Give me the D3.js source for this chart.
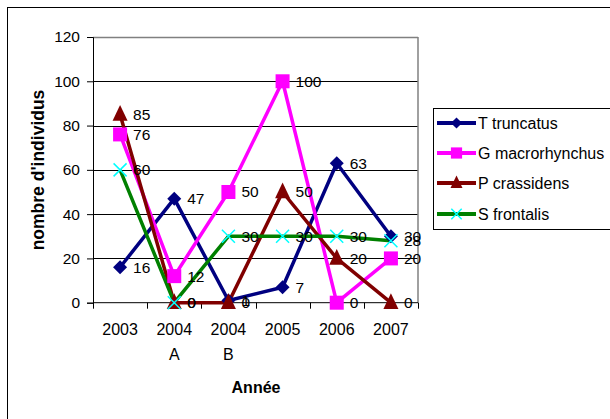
<!DOCTYPE html>
<html>
<head>
<meta charset="utf-8">
<script src="https://cdn.jsdelivr.net/npm/d3@7"></script>
<style>
  html, body { margin: 0; padding: 0; background: #fff; }
  svg { display: block; font-family: "Liberation Sans", Arial, sans-serif; }
</style>
</head>
<body>
<svg id="chart" width="610" height="419"></svg>
<script>
// ---- data ----
const categories = ["2003", "2004 A", "2004 B", "2005", "2006", "2007"];
const tickLines = [["2003"], ["2004", "A"], ["2004", "B"], ["2005"], ["2006"], ["2007"]];
const yTicks = [0, 20, 40, 60, 80, 100, 120];

const seriesNames = ["T truncatus", "G macrorhynchus", "P crassidens", "S frontalis"];
const tTruncatus = [16, 47, 1, 7, 63, 30];
const gMacrorhynchus = [76, 12, 50, 100, 0, 20];
const pCrassidens = [85, 0, 0, 50, 20, 0];
const sFrontalis = [60, 0, 30, 30, 30, 28];

const seriesValues = [tTruncatus, gMacrorhynchus, pCrassidens, sFrontalis];
const lineColors = ["#000080", "#FF00FF", "#800000", "#008000"];
const markerColors = ["#000080", "#FF00FF", "#800000", "#00FFFF"];
const markerTypes = ["diamond", "square", "triangle", "x"];

// ---- layout ----
const svg = d3.select("#chart");
const plot = { left: 93, right: 418, top: 37, bottom: 302.7 };

const x = d3.scaleBand().domain(categories).range([plot.left, plot.right]);
const y = d3.scaleLinear().domain([0, 120]).range([plot.bottom, plot.top]);
const cx = c => x(c) + x.bandwidth() / 2;

// outer border
svg.append("rect").attr("x", 7.5).attr("y", 7.5).attr("width", 640).attr("height", 440)
  .attr("fill", "#fff").attr("stroke", "#000").attr("stroke-width", 1);

// gridlines
svg.append("g").selectAll("line").data(yTicks.filter(t => t > 0)).join("line")
  .attr("x1", plot.left).attr("x2", plot.right)
  .attr("y1", d => Math.round(y(d)) + 0.5).attr("y2", d => Math.round(y(d)) + 0.5)
  .attr("stroke", d => d === 120 ? "#808080" : "#000").attr("stroke-width", d => d === 120 ? 1.5 : 1);

// right border of plot area
svg.append("line").attr("x1", plot.right).attr("x2", plot.right)
  .attr("y1", plot.top).attr("y2", plot.bottom)
  .attr("stroke", "#808080").attr("stroke-width", 1.5);

// y axis
const yAxis = d3.axisLeft(y).tickValues(yTicks).tickSize(6).tickPadding(7);
const gy = svg.append("g").attr("transform", `translate(${plot.left},0)`).call(yAxis);
gy.select(".domain").attr("stroke", "#000");
gy.selectAll(".tick line").attr("stroke", "#000");
gy.selectAll(".tick text").attr("font-size", 15.5).attr("fill", "#000")
  .attr("font-family", "Liberation Sans, Arial, sans-serif");

// x axis (ticks at category boundaries)
svg.append("line").attr("x1", plot.left).attr("x2", plot.right)
  .attr("y1", plot.bottom).attr("y2", plot.bottom).attr("stroke", "#000");
const boundaries = categories.map(c => x(c)).concat([plot.right]);
svg.append("g").selectAll("line").data(boundaries).join("line")
  .attr("x1", d => Math.round(d) + 0.5).attr("x2", d => Math.round(d) + 0.5)
  .attr("y1", plot.bottom).attr("y2", plot.bottom + 6).attr("stroke", "#000");

const xl = svg.append("g").selectAll("text").data(categories).join("text")
  .attr("x", d => cx(d)).attr("y", 335).attr("text-anchor", "middle")
  .attr("font-size", 16).attr("fill", "#000");
xl.each(function(d, i) {
  const t = d3.select(this);
  tickLines[i].forEach((s, j) => {
    t.append("tspan").attr("x", cx(d)).attr("dy", j === 0 ? 0 : 25).text(s);
  });
});

// axis titles
svg.append("text").attr("x", 256).attr("y", 393).attr("text-anchor", "middle")
  .attr("font-size", 16).attr("font-weight", "bold").text("Année");
svg.append("text").attr("transform", "translate(44,170) rotate(-90)")
  .attr("text-anchor", "middle").attr("font-size", 17.5).attr("font-weight", "bold")
  .text("nombre d'individus");

// markers
function drawMarker(g, type, color, px, py, scale = 1) {
  if (type === "diamond") {
    const s = 7 * scale;
    g.append("path").attr("d", `M${px},${py - s}L${px + s},${py}L${px},${py + s}L${px - s},${py}Z`).attr("fill", color);
  } else if (type === "square") {
    const s = 7 * scale;
    g.append("rect").attr("x", px - s).attr("y", py - s).attr("width", 2 * s).attr("height", 2 * s).attr("fill", color);
  } else if (type === "triangle") {
    const s = 7.5 * scale;
    g.append("path").attr("d", `M${px},${py - s * 1.25}L${px + s},${py + s * 0.85}L${px - s},${py + s * 0.85}Z`).attr("fill", color);
  } else {
    const s = 6.5 * scale;
    g.append("path").attr("d", `M${px - s},${py - s}L${px + s},${py + s}M${px - s},${py + s}L${px + s},${py - s}`)
      .attr("stroke", color).attr("stroke-width", 1.5).attr("fill", "none");
  }
}

const line = d3.line().x((d, i) => cx(categories[i])).y(d => y(d));
const linesG = svg.append("g");
seriesValues.forEach((vals, si) => {
  linesG.append("path").datum(vals).attr("d", line)
    .attr("fill", "none").attr("stroke", lineColors[si]).attr("stroke-width", 3.5)
    .attr("stroke-linejoin", "round");
});
const markersG = svg.append("g");
[0, 2, 1, 3].forEach(si => {
  seriesValues[si].forEach((v, i) => drawMarker(markersG, markerTypes[si], markerColors[si], cx(categories[i]), y(v)));
});

// data labels
const labelsG = svg.append("g");
seriesValues.forEach((vals, si) => {
  vals.forEach((v, i) => {
    labelsG.append("text").attr("x", cx(categories[i]) + 13).attr("y", y(v) + 5.5)
      .attr("font-size", 15.5).attr("fill", "#000").text(v);
  });
});

// legend
svg.append("rect").attr("x", 433.5).attr("y", 108.5).attr("width", 200).attr("height", 121)
  .attr("fill", "#fff").attr("stroke", "#000");
const legendY = [123, 153, 183, 214];
seriesNames.forEach((name, si) => {
  const ly = legendY[si];
  svg.append("line").attr("x1", 437).attr("x2", 476).attr("y1", ly).attr("y2", ly)
    .attr("stroke", lineColors[si]).attr("stroke-width", 4);
  drawMarker(svg, markerTypes[si], markerColors[si], 456.5, ly, 0.8);
  svg.append("text").attr("x", 478).attr("y", ly + 6).attr("font-size", 16).text(name);
});
</script>
</body>
</html>
